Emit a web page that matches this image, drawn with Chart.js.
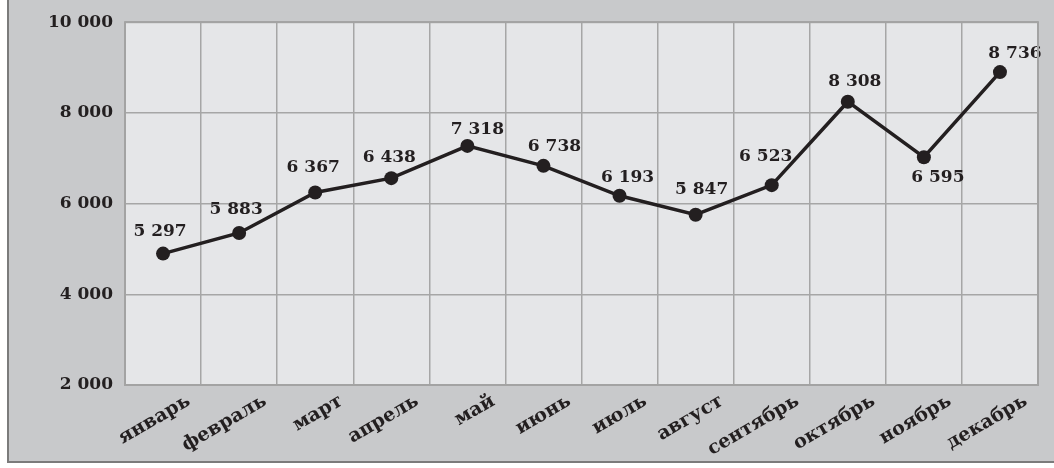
<!DOCTYPE html>
<html>
<head>
<meta charset="utf-8">
<script src="https://cdn.jsdelivr.net/npm/chart.js@4"></script>
<style>
  html, body { margin: 0; padding: 0; background: #fff; }
  #box {
    position: absolute; left: 7px; top: 0;
    width: 1045px; height: 461px;
    background: #c8c9cb;
    border-left: 2px solid #7b7b7b;
    border-bottom: 2px solid #7b7b7b;
  }
  #canvas { display: block; }
</style>
</head>
<body>
<div id="box"><canvas id="canvas" width="1045" height="461"></canvas></div>
<script>
const months = ['январь', 'февраль', 'март', 'апрель', 'май', 'июнь',
  'июль', 'август', 'сентябрь', 'октябрь', 'ноябрь', 'декабрь'];
// point heights as drawn in the picture
const values = [4897, 5352, 6245, 6561, 7272, 6832, 6172, 5755, 6407, 8247, 7023, 8900];
// numbers printed next to the points
const valueLabels = ['5 297', '5 883', '6 367', '6 438', '7 318', '6 738',
  '6 193', '5 847', '6 523', '8 308', '6 595', '8 736'];
const yTicks = [2000, 4000, 6000, 8000, 10000];

const ink = '#231f20';
const serif = '"DejaVu Serif", serif';

function spaced(v) {
  return String(v).replace(/\B(?=(\d{3})+(?!\d))/g, ' ');
}

// where each number sits relative to its point
const shiftX = [-3, -3, -2, -2, 10, 11, 8, 6, -6, 7, 14, 15];
const shiftY = [-22, -23, -25, -21, -16, -19, -18, -25, -29, -20, 20, -19];

const plotBg = {
  id: 'plotBg',
  beforeDraw(chart) {
    const a = chart.chartArea;
    const c = chart.ctx;
    c.save();
    c.fillStyle = '#e5e6e8';
    c.fillRect(a.left, a.top, a.right - a.left, a.bottom - a.top);
    c.restore();
  },
  afterDraw(chart) {
    const a = chart.chartArea;
    const c = chart.ctx;
    c.save();
    c.strokeStyle = '#a3a3a3';
    c.lineWidth = 2;
    c.strokeRect(a.left, a.top, a.right - a.left, a.bottom - a.top);
    c.restore();
  }
};

const numbers = {
  id: 'numbers',
  afterDatasetsDraw(chart) {
    const c = chart.ctx;
    const pts = chart.getDatasetMeta(0).data;
    c.save();
    c.font = 'bold 17px ' + serif;
    c.fillStyle = ink;
    c.textAlign = 'center';
    c.textBaseline = 'middle';
    pts.forEach((p, i) => {
      c.fillText(valueLabels[i], p.x + shiftX[i], p.y + shiftY[i]);
    });
    c.restore();
  }
};

new Chart(document.getElementById('canvas'), {
  type: 'line',
  data: {
    labels: months,
    datasets: [{
      data: values,
      borderColor: ink,
      backgroundColor: ink,
      borderWidth: 3.5,
      pointRadius: 7,
      pointHoverRadius: 7,
      pointBackgroundColor: ink,
      pointBorderWidth: 0,
      tension: 0
    }]
  },
  options: {
    responsive: false,
    animation: false,
    layout: { padding: { top: 22, right: 16, left: 0, bottom: 0 } },
    plugins: { legend: { display: false }, tooltip: { enabled: false } },
    scales: {
      x: {
        offset: true,
        grid: { offset: true, color: '#a6a6a6', lineWidth: 1.5, drawTicks: false },
        border: { display: false },
        ticks: {
          color: ink,
          font: { family: serif, weight: 'bold', size: 19 },
          minRotation: 30,
          maxRotation: 30,
          labelOffset: 26,
          padding: 5
        },
        afterFit(scale) { scale.height = 76; }
      },
      y: {
        min: 2000,
        max: 10000,
        afterBuildTicks(scale) { scale.ticks = yTicks.map(v => ({ value: v })); },
        grid: { color: '#a6a6a6', lineWidth: 1.5, drawTicks: false },
        border: { display: false },
        ticks: {
          color: ink,
          font: { family: serif, weight: 'bold', size: 17 },
          padding: 12,
          callback: v => spaced(v)
        },
        afterFit(scale) { scale.width = 116; }
      }
    }
  },
  plugins: [plotBg, numbers]
});
</script>
</body>
</html>
